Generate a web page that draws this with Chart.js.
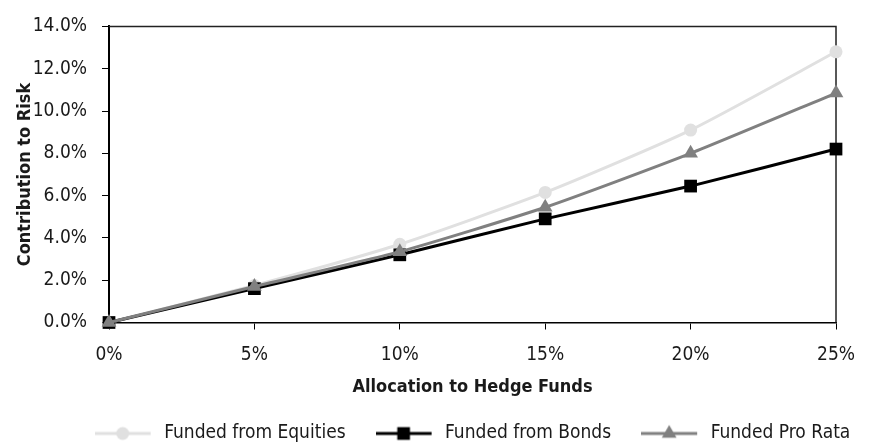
<!DOCTYPE html>
<html>
<head>
<meta charset="utf-8">
<script src="https://cdn.jsdelivr.net/npm/chart.js@4/dist/chart.umd.min.js"></script>
<style>
  html, body { margin: 0; padding: 0; background: #ffffff; }
  #wrap { width: 869px; height: 444px; }
</style>
</head>
<body>
<div id="wrap"><canvas id="chart" width="869" height="444"></canvas></div>
<script>
// Allocation to hedge funds (%) and contribution to portfolio risk (%)
const allocations = [0, 5, 10, 15, 20, 25];
const fundedFromEquities = [0, 1.75, 3.7, 6.15, 9.1, 12.8];
const fundedFromBonds = [0, 1.6, 3.2, 4.9, 6.45, 8.2];
const fundedProRata = [0, 1.7, 3.35, 5.45, 8.0, 10.85];
const seriesNames = ['Funded from Equities', 'Funded from Bonds', 'Funded Pro Rata'];
const xAxisTitle = 'Allocation to Hedge Funds';
const yAxisTitle = 'Contribution to Risk';

const FONT = "'DejaVu Sans Condensed', 'Liberation Sans Narrow', 'Liberation Sans', sans-serif";
const TEXT = '#1a1a1a';

const styles = [
  { color: '#e0e0e0', point: 'circle', radius: 6.5 },
  { color: '#000000', point: 'rect', radius: 9 },
  { color: '#808080', point: 'triangle', radius: 8.5 }
];

function pairs(values) {
  return allocations.map((x, i) => ({ x: x, y: values[i] }));
}

// Legend swatch: a short line with the series marker in the middle
function legendIcon(s) {
  const c = document.createElement('canvas');
  c.width = 60; c.height = 20;
  const g = c.getContext('2d');
  g.strokeStyle = s.color; g.fillStyle = s.color; g.lineWidth = 3;
  g.beginPath(); g.moveTo(0, 10); g.lineTo(56, 10); g.stroke();
  Chart.helpers.drawPoint(g, { pointStyle: s.point, radius: s.radius, borderWidth: 0, rotation: 0 }, 28, 10);
  return c;
}

const seriesValues = [fundedFromEquities, fundedFromBonds, fundedProRata];
const datasets = seriesValues.map((vals, i) => ({
  label: seriesNames[i],
  data: pairs(vals),
  borderColor: styles[i].color,
  backgroundColor: styles[i].color,
  pointBackgroundColor: styles[i].color,
  pointBorderColor: styles[i].color,
  pointBorderWidth: 0,
  pointStyle: styles[i].point,
  pointRadius: styles[i].radius,
  pointHoverRadius: styles[i].radius,
  borderWidth: 3,
  tension: 0.2,
  clip: false,
  order: 3 - i
}));

// Thin frame along the top and right of the plot
const framePlugin = {
  id: 'frame',
  beforeDatasetsDraw(chart) {
    const { ctx, chartArea: a } = chart;
    ctx.save();
    ctx.strokeStyle = '#222';
    ctx.lineWidth = 1.5;
    ctx.beginPath();
    ctx.moveTo(a.left, a.top);
    ctx.lineTo(a.right, a.top);
    ctx.lineTo(a.right, a.bottom);
    ctx.stroke();
    ctx.restore();
  }
};

// Center the legend under the plot area
const legendShift = {
  id: 'legendShift',
  afterLayout(chart) {
    const lg = chart.legend, a = chart.chartArea;
    if (!lg) return;
    const dx = (a.left + a.right) / 2 - (lg.left + lg.right) / 2;
    lg.left += dx; lg.right += dx;
  }
};

new Chart(document.getElementById('chart'), {
  type: 'line',
  data: { datasets: datasets },
  plugins: [framePlugin, legendShift],
  options: {
    responsive: false,
    devicePixelRatio: 1,
    animation: false,
    layout: { padding: { top: 16, right: 20, left: 0, bottom: -9 } },
    plugins: {
      tooltip: { enabled: false },
      legend: {
        position: 'bottom',
        labels: {
          usePointStyle: true,
          pointStyleWidth: 60,
          padding: 30,
          color: TEXT,
          font: { family: FONT, size: 19 },
          sort: (a, b) => a.datasetIndex - b.datasetIndex,
          generateLabels(chart) {
            const items = Chart.defaults.plugins.legend.labels.generateLabels(chart);
            items.forEach(it => { it.pointStyle = legendIcon(styles[it.datasetIndex]); });
            return items;
          }
        }
      }
    },
    scales: {
      x: {
        type: 'linear',
        min: 0, max: 25,
        afterFit(scale) { scale.height = 71.5; },
        ticks: {
          stepSize: 5,
          padding: 14,
          color: TEXT,
          font: { family: FONT, size: 19 },
          maxRotation: 0,
          callback: v => v + '%'
        },
        grid: { drawOnChartArea: false, drawTicks: true, tickLength: 7, color: '#000', lineWidth: 1 },
        border: { display: true, color: '#000', width: 1.5 },
        title: {
          display: true,
          text: xAxisTitle,
          color: TEXT,
          padding: 0,
          font: { family: FONT, size: 18, weight: 'bold', lineHeight: 0.75 }
        }
      },
      y: {
        type: 'linear',
        min: 0, max: 14,
        afterFit(scale) { scale.width = 109; },
        ticks: {
          stepSize: 2,
          padding: 15,
          color: TEXT,
          font: { family: FONT, size: 19 },
          callback: v => v.toFixed(1) + '%'
        },
        grid: { drawOnChartArea: false, drawTicks: true, tickLength: 7, color: '#000', lineWidth: 1 },
        border: { display: true, color: '#000', width: 2 },
        title: {
          display: true,
          text: yAxisTitle,
          color: TEXT,
          padding: { top: 19, bottom: 0 },
          font: { family: FONT, size: 18, weight: 'bold', lineHeight: 0.75 }
        }
      }
    }
  }
});
</script>
</body>
</html>
